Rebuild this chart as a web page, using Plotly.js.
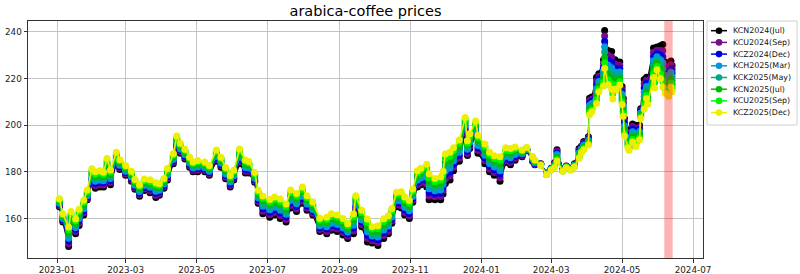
<!DOCTYPE html>
<html>
<head>
<meta charset="utf-8">
<script src="https://cdn.plot.ly/plotly-3.0.1.min.js"></script>
<style>html,body{margin:0;padding:0;background:#fff;}#chart{width:800px;height:274px;}</style>
</head>
<body>
<div id="chart"></div>
<script>
// ---- data ----
const contracts = ["KCN2024(Jul)","KCU2024(Sep)","KCZ2024(Dec)","KCH2025(Mar)","KCK2025(May)","KCN2025(Jul)","KCU2025(Sep)","KCZ2025(Dec)"];

const dates = ["2023-01-03","2023-01-06","2023-01-11","2023-01-13","2023-01-17","2023-01-20","2023-01-24","2023-01-27","2023-01-31","2023-02-03",
"2023-02-07","2023-02-10","2023-02-13","2023-02-16","2023-02-21","2023-02-24","2023-03-01","2023-03-06","2023-03-09","2023-03-13",
"2023-03-17","2023-03-22","2023-03-27","2023-03-30","2023-04-03","2023-04-06","2023-04-11","2023-04-14","2023-04-17","2023-04-21",
"2023-04-25","2023-04-28","2023-05-02","2023-05-08","2023-05-12","2023-05-18","2023-05-22","2023-05-26","2023-05-30","2023-06-02",
"2023-06-07","2023-06-12","2023-06-15","2023-06-20","2023-06-23","2023-06-27","2023-07-03","2023-07-07","2023-07-12","2023-07-17",
"2023-07-21","2023-07-26","2023-07-31","2023-08-04","2023-08-09","2023-08-15","2023-08-21","2023-08-25","2023-08-30","2023-09-04",
"2023-09-08","2023-09-13","2023-09-15","2023-09-20","2023-09-25","2023-09-29","2023-10-04","2023-10-09","2023-10-13","2023-10-16",
"2023-10-20","2023-10-24","2023-10-27","2023-10-31","2023-11-03","2023-11-07","2023-11-10","2023-11-15","2023-11-17","2023-11-22",
"2023-11-27","2023-11-29","2023-12-01","2023-12-05","2023-12-08","2023-12-13","2023-12-18","2023-12-20","2023-12-22","2023-12-27",
"2023-12-29","2024-01-04","2024-01-08","2024-01-12","2024-01-17","2024-01-22","2024-01-26","2024-01-30","2024-02-05","2024-02-09",
"2024-02-14","2024-02-16","2024-02-21","2024-02-26","2024-03-01","2024-03-04","2024-03-06","2024-03-11","2024-03-14","2024-03-18",
"2024-03-21","2024-03-25","2024-03-27","2024-03-29","2024-04-02","2024-04-03","2024-04-05","2024-04-09","2024-04-11","2024-04-15",
"2024-04-16","2024-04-19","2024-04-22","2024-04-23","2024-04-25","2024-04-26","2024-04-29","2024-05-01","2024-05-02","2024-05-03",
"2024-05-06","2024-05-07","2024-05-10","2024-05-13","2024-05-16","2024-05-17","2024-05-20","2024-05-22","2024-05-23","2024-05-28",
"2024-05-29","2024-05-31","2024-06-03","2024-06-05","2024-06-07","2024-06-10","2024-06-12","2024-06-13"];

const kcn2024 = [165,158.5,148,156,153.5,157,161.5,168,175,173,
173.5,173.5,178,174.5,183.5,181,178.5,176,172.5,169.5,
172,171,169,170,173,176.5,183.5,190.5,188,185.5,
182,180,180,180,178.5,184.5,182,177,173.5,176.5,
183.5,179.5,179.5,175.5,166.5,162,160.5,161.5,160,158.5,
164.5,163,166.5,163.5,161.5,154.5,153.5,155,154.5,153,
151.5,153.5,163.5,156.5,150,149.5,148.5,151.5,153.5,158,
165,164.5,161.5,160,167,173.5,174.5,173.5,168,168,
168,170.5,175,176.5,180.5,184.5,197,187,190,195.5,
188,183.5,180,178.5,176,184,183,185,186.5,189,
184.5,183,183.5,179.5,181.5,184,189.5,181,182.5,181.5,
183.5,190,191,193,195,211.5,212,220.5,222,228,
240.5,232,231.5,228,228,227,227,216.5,211.5,203,
198,195.5,200.5,200,200,207,219.5,220.5,219.5,233,
232,233.5,234,234.5,227,225,227.5,225.5];

const kcu2024 = [165.5,159,149.2,157,154.4,158,162.4,168.6,175.9,174,
174.5,174.4,179.1,175.4,184.2,181.6,179.1,176.6,173.1,170.2,
172.7,171.8,169.9,170.7,173.6,177.2,184.1,191.2,188.6,186.1,
182.6,180.6,180.7,180.6,179.1,185.2,182.6,177.7,174.2,177.1,
184.4,180.3,180.2,176.1,167.3,163.1,161.6,162.6,161.2,159.6,
165.6,164.1,167.5,164.4,162.3,155.3,154.5,156,155.5,154,
152.4,154.7,164.4,157.5,151.4,150.5,149.7,152.7,154.6,158.9,
165.9,165.5,162.6,161.1,167.8,174.5,175.5,174.9,169.6,169.3,
169.4,171.9,176.8,178.2,181.9,185.8,197.9,187.9,190.9,196.4,
189.1,184.7,181.2,179.7,177.5,184.9,184,185.8,186.9,189.2,
184.8,183.3,183.4,179.4,181.4,183.7,188.8,180.9,182.4,181.4,
183.3,189.4,190.6,192.5,194.5,210.5,211.1,218.9,220.9,226.4,
238.2,229.9,229.2,225.6,226.2,225.3,225.6,215.4,210.4,201.9,
196.9,194.6,199.4,198.7,199.1,206.4,217.7,219.2,218,231.2,
229.7,232.1,232,231.9,225.1,223.2,225.9,223.9];

const kcz2024 = [166,159.5,150.4,158,155.3,159,163.3,169.2,176.8,175,
175.5,175.3,180.2,176.3,184.9,182.2,179.7,177.2,173.7,170.9,
173.4,172.6,170.8,171.4,174.2,177.9,184.7,191.9,189.2,186.7,
183.2,181.2,181.4,181.2,179.7,185.9,183.2,178.4,174.9,177.7,
185.3,181.1,180.9,176.7,168.1,164.2,162.7,163.7,162.4,160.7,
166.7,165.2,168.5,165.3,163.1,156.1,155.5,157,156.5,155,
153.3,155.9,165.3,158.5,152.8,151.5,150.9,153.9,155.7,159.8,
166.8,166.5,163.7,162.2,168.6,175.5,176.5,176.3,171.2,170.6,
170.8,173.3,178.6,179.9,183.3,187.1,198.8,188.8,191.8,197.3,
190.2,185.9,182.4,180.9,179,185.8,185,186.6,187.3,189.4,
185.1,183.6,183.3,179.3,181.3,183.4,188.1,180.8,182.3,181.3,
183.1,188.8,190.2,192,194,209.5,210.2,217.3,219.8,224.8,
235.9,227.8,226.9,223.2,224.4,223.6,224.2,214.3,209.3,200.8,
195.8,193.7,198.3,197.4,198.2,205.8,215.9,217.9,216.5,229.4,
227.4,230.7,230,229.3,223.2,221.4,224.3,222.3];

const kch2025 = [166.5,160,151.6,159,156.2,160,164.2,169.8,177.7,176,
176.5,176.2,181.3,177.2,185.6,182.8,180.3,177.8,174.3,171.6,
174.1,173.4,171.7,172.1,174.8,178.6,185.3,192.6,189.8,187.3,
183.8,181.8,182.1,181.8,180.3,186.6,183.8,179.1,175.6,178.3,
186.2,181.9,181.6,177.3,168.9,165.3,163.8,164.8,163.6,161.8,
167.8,166.3,169.5,166.2,163.9,156.9,156.5,158,157.5,156,
154.2,157.1,166.2,159.5,154.2,152.5,152.1,155.1,156.8,160.7,
167.7,167.5,164.8,163.3,169.4,176.5,177.5,177.7,172.8,171.9,
172.2,174.7,180.4,181.6,184.7,188.4,199.7,189.7,192.7,198.2,
191.3,187.1,183.6,182.1,180.5,186.7,186,187.4,187.7,189.6,
185.4,183.9,183.2,179.2,181.2,183.1,187.4,180.7,182.2,181.2,
182.9,188.2,189.8,191.5,193.5,208.5,209.3,215.7,218.7,223.2,
233.6,225.7,224.6,220.8,222.6,221.9,222.8,213.2,208.2,199.7,
194.7,192.8,197.2,196.1,197.3,205.2,214.1,216.6,215,227.6,
225.1,229.3,228,226.7,221.3,219.6,222.7,220.7];

const kck2025 = [167,160.5,152.8,160,157.1,161,165.1,170.4,178.6,177,
177.5,177.1,182.4,178.1,186.3,183.4,180.9,178.4,174.9,172.3,
174.8,174.2,172.6,172.8,175.4,179.3,185.9,193.3,190.4,187.9,
184.4,182.4,182.8,182.4,180.9,187.3,184.4,179.8,176.3,178.9,
187.1,182.7,182.3,177.9,169.7,166.4,164.9,165.9,164.8,162.9,
168.9,167.4,170.5,167.1,164.7,157.7,157.5,159,158.5,157,
155.1,158.3,167.1,160.5,155.6,153.5,153.3,156.3,157.9,161.6,
168.6,168.5,165.9,164.4,170.2,177.5,178.5,179.1,174.4,173.2,
173.6,176.1,182.2,183.3,186.1,189.7,200.6,190.6,193.6,199.1,
192.4,188.3,184.8,183.3,182,187.6,187,188.2,188.1,189.8,
185.7,184.2,183.1,179.1,181.1,182.8,186.7,180.6,182.1,181.1,
182.7,187.6,189.4,191,193,207.5,208.4,214.1,217.6,221.6,
231.3,223.6,222.3,218.4,220.8,220.2,221.4,212.1,207.1,198.6,
193.6,191.9,196.1,194.8,196.4,204.6,212.3,215.3,213.5,225.8,
222.8,227.9,226,224.1,219.4,217.8,221.1,219.1];

const kcn2025 = [167.5,161,154,161,158,162,166,171,179.5,178,
178.5,178,183.5,179,187,184,181.5,179,175.5,173,
175.5,175,173.5,173.5,176,180,186.5,194,191,188.5,
185,183,183.5,183,181.5,188,185,180.5,177,179.5,
188,183.5,183,178.5,170.5,167.5,166,167,166,164,
170,168.5,171.5,168,165.5,158.5,158.5,160,159.5,158,
156,159.5,168,161.5,157,154.5,154.5,157.5,159,162.5,
169.5,169.5,167,165.5,171,178.5,179.5,180.5,176,174.5,
175,177.5,184,185,187.5,191,201.5,191.5,194.5,200,
193.5,189.5,186,184.5,183.5,188.5,188,189,188.5,190,
186,184.5,183,179,181,182.5,186,180.5,182,181,
182.5,187,189,190.5,192.5,206.5,207.5,212.5,216.5,220,
229,221.5,220,216,219,218.5,220,211,206,197.5,
192.5,191,195,193.5,195.5,204,210.5,214,212,224,
220.5,226.5,224,221.5,217.5,216,219.5,217.5];

const kcu2025 = [168,161.5,155.2,162,158.9,163,166.9,171.6,180.4,179,
179.5,178.9,184.6,179.9,187.7,184.6,182.1,179.6,176.1,173.7,
176.2,175.8,174.4,174.2,176.6,180.7,187.1,194.7,191.6,189.1,
185.6,183.6,184.2,183.6,182.1,188.7,185.6,181.2,177.7,180.1,
188.9,184.3,183.7,179.1,171.3,168.6,167.1,168.1,167.2,165.1,
171.1,169.6,172.5,168.9,166.3,159.3,159.5,161,160.5,159,
156.9,160.7,168.9,162.5,158.4,155.5,155.7,158.7,160.1,163.4,
170.4,170.5,168.1,166.6,171.8,179.5,180.5,181.9,177.6,175.8,
176.4,178.9,185.8,186.7,188.9,192.3,202.4,192.4,195.4,200.9,
194.6,190.7,187.2,185.7,185,189.4,189,189.8,188.9,190.2,
186.3,184.8,182.9,178.9,180.9,182.2,185.3,180.4,181.9,180.9,
182.3,186.4,188.6,190,192,205.5,206.6,210.9,215.4,218.4,
226.7,219.4,217.7,213.6,217.2,216.8,218.6,209.9,204.9,196.4,
191.4,190.1,193.9,192.2,194.6,203.4,208.7,212.7,210.5,222.2,
218.2,225.1,222,218.9,215.6,214.2,217.9,215.9];

const kcz2025 = [168.5,162,156.4,163,159.8,164,167.8,172.2,181.3,180,
180.5,179.8,185.7,180.8,188.4,185.2,182.7,180.2,176.7,174.4,
176.9,176.6,175.3,174.9,177.2,181.4,187.7,195.4,192.2,189.7,
186.2,184.2,184.9,184.2,182.7,189.4,186.2,181.9,178.4,180.7,
189.8,185.1,184.4,179.7,172.1,169.7,168.2,169.2,168.4,166.2,
172.2,170.7,173.5,169.8,167.1,160.1,160.5,162,161.5,160,
157.8,161.9,169.8,163.5,159.8,156.5,156.9,159.9,161.2,164.3,
171.3,171.5,169.2,167.7,172.6,180.5,181.5,183.3,179.2,177.1,
177.8,180.3,187.6,188.4,190.3,193.6,203.3,193.3,196.3,201.8,
195.7,191.9,188.4,186.9,186.5,190.3,190,190.6,189.3,190.4,
186.6,185.1,182.8,178.8,180.8,181.9,184.6,180.3,181.8,180.8,
182.1,185.8,188.2,189.5,191.5,204.5,205.7,209.3,214.3,216.8,
224.4,217.3,215.4,211.2,215.4,215.1,217.2,208.8,203.8,195.3,
190.3,189.2,192.8,190.9,193.7,202.8,206.9,211.4,209,220.4,
215.9,223.7,220,216.3,213.7,212.4,216.3,214.3];

const xTickVals = ["2023-01-01","2023-03-01","2023-05-01","2023-07-01","2023-09-01","2023-11-01","2024-01-01","2024-03-01","2024-05-01","2024-07-01"];
const xTickText = ["2023-01","2023-03","2023-05","2023-07","2023-09","2023-11","2024-01","2024-03","2024-05","2024-07"];
const yTickVals = [160,180,200,220,240];
const highlightStart = "2024-06-06 07:00";
const highlightEnd = "2024-06-13 12:00";

// ---- styling ----
const seriesValues = [kcn2024,kcu2024,kcz2024,kch2025,kck2025,kcn2025,kcu2025,kcz2025];
const colors = ["#000000","#7a0a8c","#0000dd","#0099dd","#00aa88","#00bb00","#00f500","#eeee00"];
const FONT = "DejaVu Sans, Liberation Sans, sans-serif";

const traces = seriesValues.map((vals, i) => ({
  type: "scatter", mode: "lines+markers", name: contracts[i],
  x: dates, y: vals,
  line: {color: colors[i], width: 1.5},
  marker: {color: colors[i], size: 7},
  showlegend: false, hoverinfo: "skip"
}));

// plot area in pixels
const L = 28, R = 703, T = 21, B = 258;
const px = x => (x - L) / (R - L);
const py = y => (B - y) / (B - T);

const shapes = [
  {type: "rect", xref: "x", yref: "paper", x0: highlightStart, x1: highlightEnd, y0: 0, y1: 1,
   fillcolor: "rgba(255,0,0,0.3)", line: {width: 0}, layer: "above"},
  {type: "rect", xref: "paper", yref: "paper", x0: px(707), x1: px(797), y0: py(125), y1: py(21),
   fillcolor: "rgba(255,255,255,0.9)", line: {color: "#d0d0d0", width: 1}, layer: "above"}
];
const annotations = [];
contracts.forEach((name, i) => {
  const yy = 30.7 + 11.7 * i;
  shapes.push({type: "line", xref: "paper", yref: "paper", x0: px(711), x1: px(727), y0: py(yy), y1: py(yy),
    line: {color: colors[i], width: 1.5}, layer: "above"});
  shapes.push({type: "circle", xref: "paper", yref: "paper", xsizemode: "pixel", ysizemode: "pixel",
    xanchor: px(719), yanchor: py(yy), x0: -3.3, x1: 3.3, y0: -3.3, y1: 3.3,
    fillcolor: colors[i], line: {color: colors[i], width: 0}, layer: "above"});
  annotations.push({xref: "paper", yref: "paper", x: px(731), y: py(yy), xanchor: "left", yanchor: "middle",
    text: name, showarrow: false, font: {family: FONT, size: 7.9, color: "#111"}});
});

const layout = {
  width: 800, height: 274,
  margin: {l: L, r: 800 - R, t: T, b: 274 - B, pad: 0},
  paper_bgcolor: "#fff", plot_bgcolor: "#fff",
  title: {text: "arabica-coffee prices", x: (L + R) / 2 / 800, xanchor: "center",
          y: 1 - 11 / 274, yanchor: "middle", yref: "container",
          font: {family: FONT, size: 14.5, color: "#000"}},
  xaxis: {type: "date", range: ["2022-12-07 01:00", "2024-07-09 14:00"],
          tickmode: "array", tickvals: xTickVals, ticktext: xTickText,
          showgrid: true, gridcolor: "#c4c4c4", gridwidth: 1,
          showline: true, mirror: true, linecolor: "#333", linewidth: 1,
          ticks: "outside", ticklen: 3.5, tickcolor: "#333", tickwidth: 1,
          tickfont: {family: FONT, size: 8.8, color: "#222"}, zeroline: false},
  yaxis: {range: [143.1, 244.6], tickmode: "array", tickvals: yTickVals,
          showgrid: true, gridcolor: "#c4c4c4", gridwidth: 1,
          showline: true, mirror: true, linecolor: "#333", linewidth: 1,
          ticks: "outside", ticklen: 3.5, tickcolor: "#333", tickwidth: 1,
          tickfont: {family: FONT, size: 8.8, color: "#222"}, zeroline: false},
  shapes: shapes, annotations: annotations,
  showlegend: false, hovermode: false
};

Plotly.newPlot("chart", traces, layout, {displayModeBar: false, staticPlot: true});
</script>
</body>
</html>
